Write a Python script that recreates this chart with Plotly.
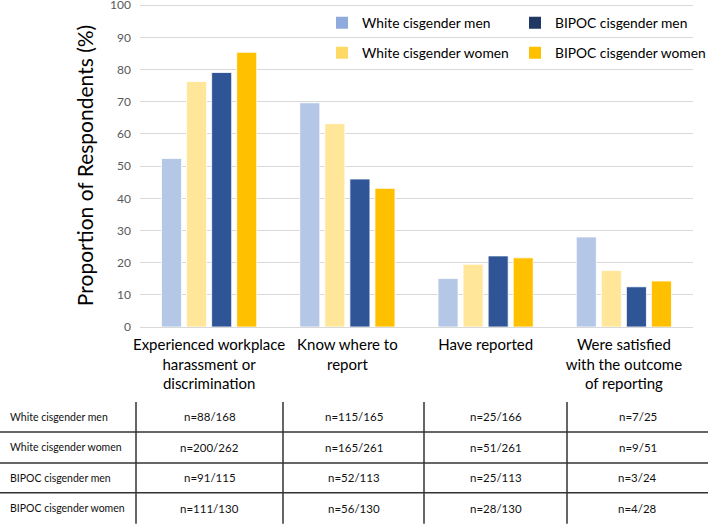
import plotly.graph_objects as go

# ---------------- data ----------------
categories = [
    "Experienced workplace<br>harassment or<br>discrimination",
    "Know where to<br>report",
    "Have reported",
    "Were satisfied<br>with the outcome<br>of reporting",
]
groups = ["White cisgender men", "White cisgender women",
          "BIPOC cisgender men", "BIPOC cisgender women"]

white_men = [52.4, 69.7, 15.1, 28.0]
white_women = [76.3, 63.2, 19.5, 17.6]
bipoc_men = [79.1, 46.0, 22.1, 12.5]
bipoc_women = [85.4, 43.1, 21.5, 14.3]

n_white_men = ["n=88/168", "n=115/165", "n=25/166", "n=7/25"]
n_white_women = ["n=200/262", "n=165/261", "n=51/261", "n=9/51"]
n_bipoc_men = ["n=91/115", "n=52/113", "n=25/113", "n=3/24"]
n_bipoc_women = ["n=111/130", "n=56/130", "n=28/130", "n=4/28"]

y_ticks = [0, 10, 20, 30, 40, 50, 60, 70, 80, 90, 100]

# ---------------- styles ----------------
bar_colors = ["#B4C7E7", "#FFE699", "#2F5597", "#FFC000"]
legend_colors = ["#8FAADC", "#FFD966", "#203864", "#FFC000"]
FONT = "Lato"

W, H = 708, 524
YMAX = 100.4
L, R, B = 140, 693, 327
T = B - (B - 5) * YMAX / 100.0


def xp(px):
    return (px - L) / (R - L)


def yp(py):
    return (B - py) / (B - T)


series = [white_men, white_women, bipoc_men, bipoc_women]
tables = [n_white_men, n_white_women, n_bipoc_men, n_bipoc_women]
legend_ids = ["legend", "legend3", "legend2", "legend4"]

fig = go.Figure()
for name, vals, col in zip(groups, series, bar_colors):
    fig.add_trace(go.Bar(
        x=categories, y=vals, name=name, marker_color=col,
        marker_line=dict(color="white", width=0.8), showlegend=False,
    ))

for name, col, lid in zip(groups, legend_colors, legend_ids):
    fig.add_trace(go.Scatter(
        x=[None], y=[None], mode="markers", name=name, legend=lid,
        marker=dict(symbol="square", size=16, color=col),
        showlegend=True,
    ))

leg_common = dict(bgcolor="rgba(0,0,0,0)", font=dict(family=FONT, size=13.8, color="#000000"),
                  xanchor="left", yanchor="middle", itemsizing="constant")
col_x = [xp(322), xp(515)]
row_y = [yp(22.5), yp(52.5)]

# table annotations and lines
annotations = []
shapes = []
col_bounds = [136, 283, 424, 567, 708]
row_centers = [417, 447.5, 478, 508.5]
for r, (gname, cells) in enumerate(zip(groups, tables)):
    annotations.append(dict(
        x=xp(8), y=yp(row_centers[r]), xref="paper", yref="paper",
        text=gname, showarrow=False, xanchor="left", yanchor="middle",
        font=dict(family=FONT, size=10.5, color="#111111"),
    ))
    for c, txt in enumerate(cells):
        cx = (col_bounds[c] + col_bounds[c + 1]) / 2
        annotations.append(dict(
            x=xp(cx), y=yp(row_centers[r]), xref="paper", yref="paper",
            text=txt, showarrow=False, xanchor="center", yanchor="middle",
            font=dict(family=FONT, size=11.5, color="#111111"),
        ))

for ly in [432, 463, 493]:
    shapes.append(dict(type="line", xref="paper", yref="paper",
                       x0=xp(0), x1=xp(708), y0=yp(ly), y1=yp(ly),
                       line=dict(color="#333333", width=1.5)))
for lx in col_bounds[:4]:
    shapes.append(dict(type="line", xref="paper", yref="paper",
                       x0=xp(lx), x1=xp(lx), y0=yp(402), y1=yp(524),
                       line=dict(color="#333333", width=1.5)))

fig.update_layout(
    width=W, height=H,
    margin=dict(l=L, r=W - R, t=T, b=H - B, autoexpand=False),
    paper_bgcolor="white", plot_bgcolor="white",
    barmode="group", bargap=0.275, bargroupgap=0.2,
    font=dict(family=FONT, color="#000000"),
    legend=dict(x=col_x[0], y=row_y[0], **leg_common),
    legend2=dict(x=col_x[1], y=row_y[0], **leg_common),
    legend3=dict(x=col_x[0], y=row_y[1], **leg_common),
    legend4=dict(x=col_x[1], y=row_y[1], **leg_common),
    annotations=annotations,
    shapes=shapes,
    xaxis=dict(
        tickfont=dict(family=FONT, size=15, color="#000000"),
        showline=False, ticks="", ticklabelstandoff=7, tickangle=0,
    ),
    yaxis=dict(
        range=[0, YMAX], tickvals=y_ticks, showgrid=True,
        gridcolor="#D9D9D9", gridwidth=1,
        zeroline=True, zerolinecolor="#D9D9D9", zerolinewidth=1,
        tickfont=dict(family=FONT, size=12, color="#595959"),
        ticks="", ticklabelstandoff=8, ticklabeloverflow="allow",
        title=dict(text="Proportion of Respondents (%)",
                   font=dict(family=FONT, size=21, color="#000000"),
                   standoff=10),
    ),
)

fig.write_html(
    "out.html",
    config={"displayModeBar": False},
    post_script="document.body.style.margin='0';document.body.style.overflow='hidden';",
)
